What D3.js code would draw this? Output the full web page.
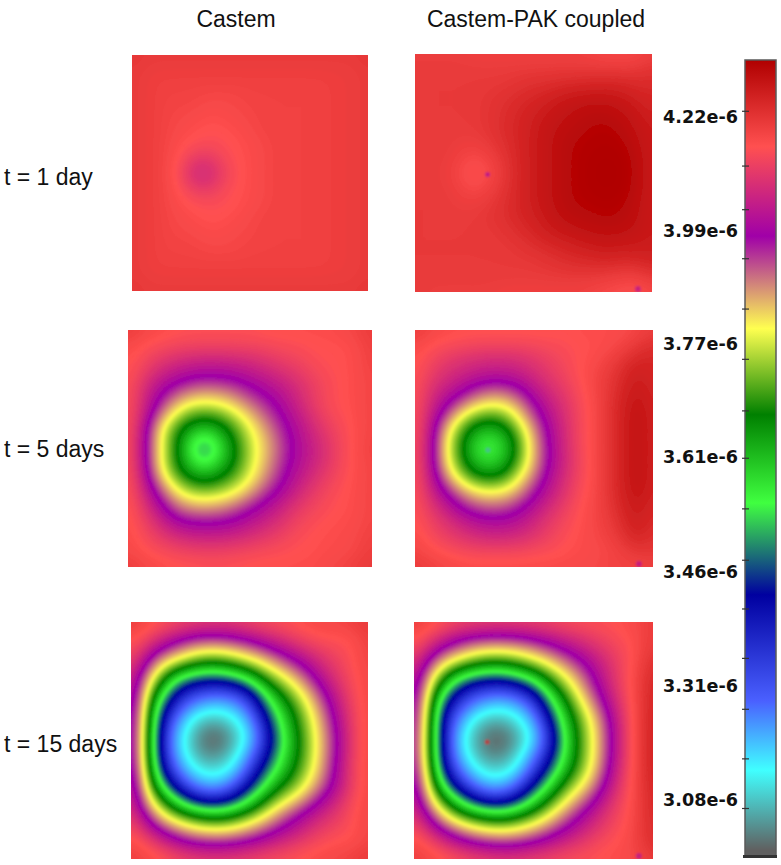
<!DOCTYPE html>
<html>
<head>
<meta charset="utf-8">
<script src="https://cdn.jsdelivr.net/npm/d3@7"></script>
<style>
  body { margin: 0; background: #fff; }
  svg { display: block; }
</style>
</head>
<body>
<svg></svg>
<script>
const columnTitles = [ 'Castem', 'Castem-PAK coupled' ]
const rowTitles = [ 't = 1 day', 't = 5 days', 't = 15 days' ]

const castemDay1 = [
  422,421,421,421,421,421,421,421,421,421,421,421,421,421,421,421,422,
  421,420,420,420,420,420,420,420,420,420,420,420,420,420,420,420,421,
  421,420,419,419,419,419,419,419,419,419,419,419,419,419,420,420,421,
  421,420,419,419,419,418,418,418,419,419,419,419,419,419,420,420,421,
  421,420,419,418,418,417,417,418,418,419,419,419,419,419,420,420,421,
  421,420,419,418,417,416,416,417,418,419,419,419,419,419,420,420,421,
  421,420,419,417,416,415,415,416,417,418,419,419,419,419,420,420,421,
  421,420,419,417,412,410,414,416,417,418,419,419,419,419,420,420,421,
  421,420,419,416,407,403,411,415,417,418,419,419,419,419,420,420,421,
  421,420,419,417,412,410,414,416,417,418,419,419,419,419,420,420,421,
  421,420,419,417,416,415,415,416,417,418,419,419,419,419,420,420,421,
  421,420,419,418,417,416,416,417,418,419,419,419,419,419,420,420,421,
  421,420,419,418,418,417,417,418,418,419,419,419,419,419,420,420,421,
  421,420,419,419,419,418,418,418,419,419,419,419,419,419,420,420,421,
  421,420,419,419,419,419,419,419,419,419,419,419,419,419,420,420,421,
  421,420,420,420,420,420,420,420,420,420,420,420,420,420,420,420,421,
  422,421,421,421,421,421,421,421,421,421,421,421,421,421,421,421,422
]

const coupledDay1 = [
  420,420,420,420,419,419,419,419,419,419,419,419,418,417,417,417,420,
  421,421,421,421,421,421,421,421,421,421,421,421,421,421,421,421,423,
  421,421,421,421,421,421,421,422,423,423,424,424,425,425,425,424,424,
  421,421,421,421,421,422,423,424,425,426,428,429,429,429,428,426,425,
  421,421,421,421,421,422,423,425,426,428,429,430,431,431,430,428,426,
  421,421,421,421,421,422,424,425,427,429,430,431,432,432,431,429,427,
  421,421,421,420,420,421,423,425,427,429,431,432,432,433,432,430,427,
  421,421,421,419,417,419,422,425,427,429,431,432,433,433,433,431,427,
  421,421,420,418,415,417,421,425,427,429,431,432,433,434,433,431,427,
  421,421,421,419,417,419,422,425,427,429,431,432,433,433,433,431,427,
  421,421,421,420,420,421,423,425,427,429,431,432,432,433,432,430,427,
  421,421,421,421,421,422,423,425,426,428,430,431,431,432,431,430,427,
  421,421,421,421,421,421,422,423,425,427,428,429,430,430,430,429,427,
  421,421,421,421,421,421,421,422,423,424,425,426,427,428,427,427,427,
  421,421,421,421,421,421,421,421,421,422,423,424,424,425,424,425,426,
  421,421,421,421,421,421,421,421,421,421,421,421,421,420,419,418,422,
  421,420,420,420,420,420,419,419,419,419,419,419,418,417,417,416,418
]

const castemDay5 = [
  421,419,418,417,416,416,416,416,416,417,417,417,417,417,418,419,421,
  418,416,415,414,414,414,414,414,414,414,415,415,416,416,416,417,420,
  417,414,411,409,407,406,406,407,408,410,412,413,415,416,416,417,420,
  417,412,407,403,401,400,400,401,403,405,408,410,413,415,416,417,419,
  417,408,400,396,391,389,390,392,397,400,403,407,411,414,416,417,419,
  417,408,398,386,379,378,379,384,390,395,400,406,411,415,416,417,419,
  417,407,387,376,368,366,368,374,382,390,397,402,408,413,415,417,419,
  418,403,380,368,361,355,361,368,378,385,394,401,406,411,414,417,419,
  418,403,382,370,356,342,356,366,376,384,392,400,404,409,414,417,420,
  418,403,380,368,360,353,360,366,377,385,394,401,405,410,414,417,419,
  418,406,386,373,366,363,366,372,379,388,396,403,408,412,415,417,419,
  418,408,396,383,376,374,376,379,386,394,400,406,411,414,416,417,419,
  418,411,403,392,388,387,388,392,397,402,406,411,413,415,416,417,419,
  418,413,408,401,398,398,398,400,403,406,409,413,415,416,417,417,419,
  418,415,412,409,407,406,406,407,409,411,413,415,416,417,417,418,420,
  418,416,415,414,413,413,413,414,414,415,415,416,416,417,417,418,420,
  421,419,418,417,417,416,416,416,417,417,417,417,417,418,419,420,422
]

const coupledDay5 = [
  421,419,418,417,417,417,417,417,417,417,416,417,417,417,417,418,420,
  418,416,415,415,414,414,414,414,414,415,415,416,416,417,418,421,424,
  417,414,411,409,408,407,407,408,410,412,414,416,417,419,422,426,425,
  417,412,409,407,405,404,404,405,408,411,413,416,418,421,424,428,424,
  417,409,405,402,396,392,392,397,403,408,411,415,418,421,425,429,425,
  417,408,401,392,384,380,381,387,398,405,409,414,417,422,426,430,425,
  417,406,392,377,369,367,369,380,392,402,408,414,417,422,426,431,425,
  417,406,381,370,361,358,361,371,386,400,407,414,417,422,426,431,425,
  416,405,381,369,356,353,358,369,385,399,407,414,417,422,426,431,425,
  417,405,381,370,361,358,361,371,385,399,406,413,417,422,426,431,425,
  417,406,390,376,368,366,368,380,390,402,408,414,417,422,426,431,425,
  417,408,399,391,383,381,382,387,397,404,409,415,417,422,426,430,425,
  417,411,406,398,394,392,393,397,403,408,412,416,418,421,425,429,424,
  417,413,410,407,403,401,401,403,407,411,414,416,418,420,424,428,423,
  418,415,412,410,408,407,407,408,410,413,415,417,418,419,422,427,422,
  419,417,416,415,414,414,414,414,415,415,416,417,417,418,419,422,421,
  421,420,419,418,418,418,418,418,418,418,418,418,418,419,419,418,420
]

const castemDay15 = [
  421,419,417,416,415,414,414,414,415,416,416,417,418,418,419,420,422,
  418,415,410,404,399,397,397,399,403,407,410,413,416,417,416,416,420,
  416,407,396,389,382,379,379,382,386,392,399,404,408,412,414,416,420,
  414,397,378,372,367,363,363,367,372,377,385,393,401,408,412,416,419,
  412,384,369,352,344,341,341,345,353,367,373,381,391,403,410,415,419,
  411,378,357,339,332,328,326,328,335,352,365,373,383,395,407,414,419,
  410,374,345,332,320,314,313,318,326,345,357,367,378,390,404,413,419,
  409,372,341,323,310,302,302,309,319,336,354,365,375,387,401,413,419,
  409,371,339,320,308,297,296,305,316,334,350,363,374,386,399,413,419,
  409,371,340,322,309,302,303,311,325,339,354,364,374,386,400,413,419,
  410,374,344,329,317,310,310,316,332,347,357,367,376,388,402,414,419,
  411,378,355,337,327,320,320,329,342,354,366,371,381,391,402,413,419,
  413,384,370,357,343,337,337,343,355,366,375,381,390,400,408,415,419,
  414,397,380,372,367,363,362,366,371,378,388,396,403,408,411,416,419,
  416,408,397,389,383,380,379,381,386,392,398,403,408,412,414,416,419,
  419,416,411,405,400,398,398,399,402,405,409,411,414,416,417,416,419,
  420,419,418,416,415,414,414,414,415,416,416,417,418,418,419,420,422
]

const coupledDay15 = [
  421,419,417,416,415,415,415,415,415,415,416,416,416,416,417,418,421,
  418,414,408,402,399,397,397,398,401,404,407,410,412,414,416,417,421,
  415,405,394,387,381,379,379,381,385,391,397,402,407,411,414,417,423,
  412,392,376,371,366,363,363,367,372,377,385,393,401,408,414,418,425,
  410,381,365,350,343,340,340,345,353,366,375,385,397,407,414,419,426,
  408,375,350,337,330,327,325,329,336,354,367,379,392,404,413,419,427,
  407,371,340,330,319,313,312,317,326,345,360,373,384,399,412,419,427,
  406,369,337,321,308,302,302,309,319,336,357,369,380,395,411,419,428,
  405,368,338,318,306,297,296,304,315,333,353,369,379,395,411,419,428,
  405,368,338,320,308,301,302,311,325,338,355,369,379,395,411,419,428,
  407,371,342,328,316,309,309,316,332,346,360,371,381,398,412,419,428,
  408,376,352,336,326,319,319,329,343,355,369,377,387,402,413,419,427,
  411,383,368,355,342,336,336,343,356,367,377,387,396,408,414,419,426,
  413,396,379,370,365,361,360,365,370,378,388,397,405,411,415,419,426,
  416,408,397,388,382,379,378,380,385,391,398,404,409,413,416,419,425,
  419,416,411,405,400,397,396,397,400,404,408,411,414,416,417,419,425,
  420,419,418,417,416,415,414,414,415,415,416,416,416,417,417,418,421
]

// colour bar
const colorValues = [ 298, 314, 328, 343, 355, 367, 380, 398, 416, 433 ]
const colorList = [ '#606060', '#40ffff', '#4a60ff', '#0000a0', '#40ff40', '#008000', '#ffff50', '#a000a8', '#ff5050', '#b00000' ]
const labelValues = [ 422, 399, 377, 361, 346, 331, 308 ]
const tickValues = [ 423.2, 412.2, 403.4, 393.7, 383.9, 374.9, 367.6, 360.9, 354.3, 347.6, 341.2, 334.7, 326.4, 316.4, 306.4 ]

// the dots left by the coupled mesh: centre well and lower right corner
const wellValues = [ 400, 306, 424 ]
const cornerValues = [ 402, 402, 402 ]

let width = 781
let height = 865
let gridSize = 17
let fine = 4
let fineSize = ( gridSize - 1 ) * fine + 1

let panels = [
  { values: castemDay1, x: 132, y: 55, w: 236, h: 236 },
  { values: coupledDay1, x: 415, y: 54, w: 237, h: 238, well: 0 },
  { values: castemDay5, x: 128, y: 330, w: 244, h: 237 },
  { values: coupledDay5, x: 415, y: 330, w: 238, h: 237, well: 1 },
  { values: castemDay15, x: 131, y: 622, w: 237, h: 237 },
  { values: coupledDay15, x: 414, y: 622, w: 239, h: 237, well: 2 }
]

const color =
d3.scaleLinear()
  .domain( colorValues )
  .range( colorList )
  .clamp( true )

const yBar =
d3.scaleLinear()
  .domain( [ 433, 422, 399, 377, 361, 346, 331, 308, 298 ] )
  .range( [ 60, 117, 231, 344, 457, 572, 686, 800, 850 ] )

let chart =
d3.select( 'svg' )
  .attr( 'width', width )
  .attr( 'height', height )

let defs = chart.append( 'defs' )

defs.append( 'filter' )
  .attr( 'id', 'soft' )
  .attr( 'x', '-5%' ).attr( 'y', '-5%' )
  .attr( 'width', '110%' ).attr( 'height', '110%' )
  .append( 'feGaussianBlur' )
  .attr( 'stdDeviation', 1 )

let contours =
d3.contours()
  .size( [ fineSize, fineSize ] )
  .thresholds( d3.range( 290, 436, .5 ) )

// draws the coarse grid smoothly: refine it for the contour tracer, then let d3.blur2 take the kinks out
function refine( values ) {
  let data = new Float64Array( fineSize * fineSize )
  for ( let j = 0; j < fineSize; j++ ) {
    for ( let i = 0; i < fineSize; i++ ) {
      let gx = Math.min( Math.floor( i / fine ), gridSize - 2 )
      let gy = Math.min( Math.floor( j / fine ), gridSize - 2 )
      let tx = i / fine - gx
      let ty = j / fine - gy
      let top = d3.interpolateNumber( values[ gy * gridSize + gx ], values[ gy * gridSize + gx + 1 ] )( tx )
      let bottom = d3.interpolateNumber( values[ ( gy + 1 ) * gridSize + gx ], values[ ( gy + 1 ) * gridSize + gx + 1 ] )( tx )
      data[ j * fineSize + i ] = top + ( bottom - top ) * ty
    }
  }
  d3.blur2( { data, width: fineSize, height: fineSize }, 2 )
  return data
}

panels.forEach( ( p, n ) => {
  // grid units run 0..16 from panel edge to panel edge, fine samples sit at k + .5 in contour space
  let xGrid = d3.scaleLinear().domain( [ 0, gridSize - 1 ] ).range( [ p.x, p.x + p.w ] )
  let yGrid = d3.scaleLinear().domain( [ 0, gridSize - 1 ] ).range( [ p.y, p.y + p.h ] )

  let path = d3.geoPath( d3.geoTransform( {
    point( x, y ) { this.stream.point( xGrid( ( x - .5 ) / fine ), yGrid( ( y - .5 ) / fine ) ) }
  } ) )

  defs.append( 'clipPath' )
    .attr( 'id', 'clip' + n )
    .append( 'rect' )
    .attr( 'x', p.x ).attr( 'y', p.y )
    .attr( 'width', p.w ).attr( 'height', p.h )

  let field =
  chart.append( 'g' )
    .attr( 'clip-path', `url(#clip${ n })` )
    .append( 'g' )
    .attr( 'filter', 'url(#soft)' )

  field.selectAll( 'path' )
    .data( contours( refine( p.values ) ).filter( d => d.coordinates.length ) )
    .enter()
    .append( 'path' )
    .attr( 'd', path )
    .attr( 'fill', d => color( d.value + .25 ) )

  if ( p.well !== undefined ) {
    field.append( 'circle' )
      .attr( 'cx', xGrid( 4.9 ) )
      .attr( 'cy', yGrid( 8.1 ) )
      .attr( 'r', 2.5 )
      .attr( 'fill', color( wellValues[ p.well ] ) )
      .attr( 'fill-opacity', .7 )

    field.append( 'circle' )
      .attr( 'cx', xGrid( 15.05 ) )
      .attr( 'cy', yGrid( 15.8 ) )
      .attr( 'r', 3 )
      .attr( 'fill', color( cornerValues[ p.well ] ) )
      .attr( 'fill-opacity', .7 )
  }
} )

// colour bar
let gradient =
defs.append( 'linearGradient' )
  .attr( 'id', 'bar' )
  .attr( 'gradientUnits', 'userSpaceOnUse' )
  .attr( 'x1', 0 ).attr( 'x2', 0 )
  .attr( 'y1', yBar( 433 ) ).attr( 'y2', yBar( 298 ) )

gradient.selectAll( 'stop' )
  .data( colorValues.slice().reverse() )
  .enter()
  .append( 'stop' )
  .attr( 'offset', d => ( yBar( d ) - yBar( 433 ) ) / ( yBar( 298 ) - yBar( 433 ) ) )
  .attr( 'stop-color', d => color( d ) )

chart.append( 'rect' )
  .attr( 'x', 745 ).attr( 'y', 60 )
  .attr( 'width', 31 ).attr( 'height', 796 )
  .attr( 'fill', 'url(#bar)' )
  .attr( 'stroke', '#5a5a5a' )
  .attr( 'stroke-width', 1.5 )

chart.append( 'rect' )
  .attr( 'x', 743 ).attr( 'y', 855 )
  .attr( 'width', 34 ).attr( 'height', 3 )
  .attr( 'fill', '#333' )

let minorAxis =
chart.append( 'g' )
  .attr( 'transform', 'translate(749,0)' )
  .call( d3.axisLeft( yBar ).tickValues( tickValues ).tickSize( 7 ).tickFormat( '' ) )

minorAxis.select( '.domain' ).remove()
minorAxis.selectAll( 'line' ).attr( 'stroke', '#333' ).attr( 'stroke-width', 1.2 )

let labelAxis =
chart.append( 'g' )
  .attr( 'transform', 'translate(745,0)' )
  .call( d3.axisLeft( yBar )
    .tickValues( labelValues )
    .tickSize( 0 )
    .tickPadding( 7 )
    .tickFormat( d => ( d / 100 ).toFixed( 2 ) + 'e-6' ) )

labelAxis.select( '.domain' ).remove()
labelAxis.selectAll( 'text' )
  .attr( 'font-family', '"DejaVu Sans"' )
  .attr( 'font-weight', 'bold' )
  .attr( 'font-size', 17.6 )
  .attr( 'fill', '#111' )

// titles
chart.selectAll( '.column' )
  .data( columnTitles )
  .enter()
  .append( 'text' )
  .attr( 'class', 'column' )
  .text( d => d )
  .attr( 'x', ( d, i ) => i == 0 ? 236 : 536 )
  .attr( 'y', 27 )
  .attr( 'text-anchor', 'middle' )
  .attr( 'font-family', '"Liberation Sans"' )
  .attr( 'font-size', 23 )
  .attr( 'fill', '#111' )

chart.selectAll( '.row' )
  .data( rowTitles )
  .enter()
  .append( 'text' )
  .attr( 'class', 'row' )
  .text( d => d )
  .attr( 'x', 4 )
  .attr( 'y', ( d, i ) => [ 185, 457, 752 ][ i ] )
  .attr( 'font-family', '"Liberation Sans"' )
  .attr( 'font-size', 23 )
  .attr( 'fill', '#111' )
</script>
</body>
</html>
